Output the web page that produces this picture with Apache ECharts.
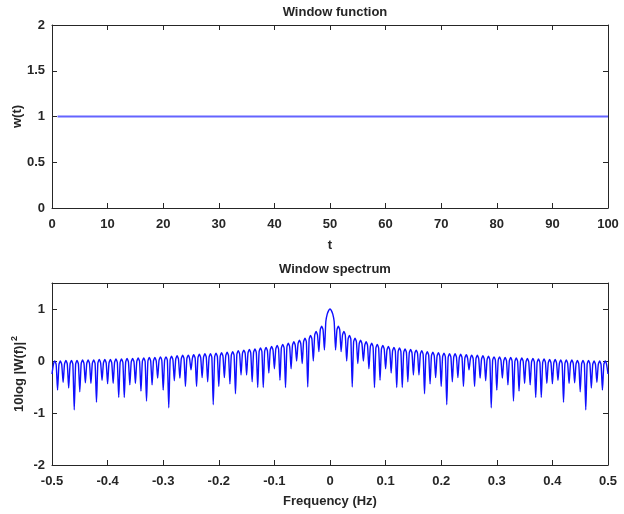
<!DOCTYPE html>
<html>
<head>
<meta charset="utf-8">
<script src="https://cdn.jsdelivr.net/npm/echarts@6/dist/echarts.min.js"></script>
<style>
html,body{margin:0;padding:0;background:#fff;}
#chart{width:624px;height:514px;}
</style>
</head>
<body>
<div id="chart"></div>
<script>
// ---- Data ----
// Window function (rectangular window)
const windowT = [1, 100];
const windowW = [1, 1];
const tTicks = [0, 10, 20, 30, 40, 50, 60, 70, 80, 90, 100];
const wTicks = [0, 0.5, 1, 1.5, 2];

// Window spectrum, read every 0.0025 Hz from -0.5 to 0.5
// (each row: null, lobe shoulder, lobe peak, lobe shoulder)
const freqStart = -0.5;
const freqStep = 0.0025;
const spectrum = [
  -0.25, -0.07, 0.00, -0.07,
  -0.56, -0.07, 0.00, -0.07,
  -0.41, -0.06, 0.01, -0.06,
  -0.52, -0.06, 0.01, -0.06,
  -0.94, -0.06, 0.01, -0.06,
  -0.59, -0.05, 0.02, -0.05,
  -0.42, -0.05, 0.02, -0.05,
  -0.43, -0.05, 0.02, -0.05,
  -0.79, -0.04, 0.03, -0.04,
  -0.37, -0.04, 0.03, -0.04,
  -0.44, -0.04, 0.03, -0.04,
  -0.43, -0.03, 0.04, -0.03,
  -0.70, -0.03, 0.04, -0.03,
  -0.70, -0.02, 0.05, -0.02,
  -0.46, -0.02, 0.05, -0.02,
  -0.43, -0.01, 0.06, -0.01,
  -0.58, -0.01, 0.06, -0.01,
  -0.77, 0.00, 0.07, 0.00,
  -0.46, 0.00, 0.07, 0.00,
  -0.33, 0.01, 0.08, 0.01,
  -0.56, 0.01, 0.08, 0.01,
  -0.90, 0.02, 0.09, 0.02,
  -0.38, 0.03, 0.10, 0.03,
  -0.33, 0.04, 0.11, 0.04,
  -0.49, 0.04, 0.11, 0.04,
  -0.17, 0.05, 0.12, 0.05,
  -0.49, 0.06, 0.13, 0.06,
  -0.32, 0.07, 0.14, 0.07,
  -0.40, 0.07, 0.14, 0.07,
  -0.84, 0.08, 0.15, 0.08,
  -0.49, 0.09, 0.16, 0.09,
  -0.32, 0.10, 0.17, 0.10,
  -0.44, 0.11, 0.18, 0.11,
  -0.63, 0.13, 0.20, 0.13,
  -0.27, 0.14, 0.21, 0.14,
  -0.27, 0.15, 0.22, 0.15,
  -0.40, 0.16, 0.23, 0.16,
  -0.51, 0.18, 0.25, 0.18,
  -0.51, 0.19, 0.26, 0.19,
  -0.23, 0.21, 0.28, 0.21,
  -0.15, 0.23, 0.30, 0.23,
  -0.37, 0.25, 0.32, 0.25,
  -0.51, 0.27, 0.34, 0.27,
  -0.15, 0.30, 0.37, 0.30,
  0.00, 0.33, 0.40, 0.33,
  -0.05, 0.37, 0.44, 0.37,
  -0.50, 0.42, 0.49, 0.42,
  0.00, 0.50, 0.57, 0.50,
  0.18, 0.60, 0.67, 0.60,
  0.21, 0.76, 0.90, 0.97,
  1.00,
  0.97, 0.90, 0.76, 0.21,
  0.60, 0.67, 0.60, 0.18,
  0.50, 0.57, 0.50, 0.00,
  0.42, 0.49, 0.42, -0.50,
  0.37, 0.44, 0.37, -0.05,
  0.33, 0.40, 0.33, 0.00,
  0.30, 0.37, 0.30, -0.15,
  0.27, 0.34, 0.27, -0.51,
  0.25, 0.32, 0.25, -0.37,
  0.23, 0.30, 0.23, -0.15,
  0.21, 0.28, 0.21, -0.23,
  0.19, 0.26, 0.19, -0.51,
  0.18, 0.25, 0.18, -0.51,
  0.16, 0.23, 0.16, -0.40,
  0.15, 0.22, 0.15, -0.27,
  0.14, 0.21, 0.14, -0.27,
  0.13, 0.20, 0.13, -0.63,
  0.11, 0.18, 0.11, -0.44,
  0.10, 0.17, 0.10, -0.32,
  0.09, 0.16, 0.09, -0.49,
  0.08, 0.15, 0.08, -0.84,
  0.07, 0.14, 0.07, -0.40,
  0.07, 0.14, 0.07, -0.32,
  0.06, 0.13, 0.06, -0.49,
  0.05, 0.12, 0.05, -0.17,
  0.04, 0.11, 0.04, -0.49,
  0.04, 0.11, 0.04, -0.33,
  0.03, 0.10, 0.03, -0.38,
  0.02, 0.09, 0.02, -0.90,
  0.01, 0.08, 0.01, -0.56,
  0.01, 0.08, 0.01, -0.33,
  0.00, 0.07, 0.00, -0.46,
  0.00, 0.07, 0.00, -0.77,
  -0.01, 0.06, -0.01, -0.58,
  -0.01, 0.06, -0.01, -0.43,
  -0.02, 0.05, -0.02, -0.46,
  -0.02, 0.05, -0.02, -0.70,
  -0.03, 0.04, -0.03, -0.70,
  -0.03, 0.04, -0.03, -0.43,
  -0.04, 0.03, -0.04, -0.44,
  -0.04, 0.03, -0.04, -0.37,
  -0.05, 0.02, -0.05, -0.79,
  -0.05, 0.02, -0.05, -0.43,
  -0.05, 0.02, -0.05, -0.42,
  -0.06, 0.01, -0.06, -0.59,
  -0.06, 0.01, -0.06, -0.94,
  -0.06, 0.01, -0.06, -0.52,
  -0.07, 0.00, -0.07, -0.41,
  -0.07, 0.00, -0.07, -0.56,
  -0.07, 0.00, -0.07, -0.25
];
const fTicks = [-0.5, -0.4, -0.3, -0.2, -0.1, 0, 0.1, 0.2, 0.3, 0.4, 0.5];
const sTicks = [-2, -1, 0, 1];

// ---- Build ----
const FONT = 'Liberation Sans, Arial, Helvetica, sans-serif';
const TXT = '#262626';
const AX = '#262626';

const windowData = windowT.map((t, i) => [t, windowW[i]]);
const spectrumData = spectrum.map((v, i) => [+(freqStart + i * freqStep).toFixed(5), v]);

function labelStyle(extra) {
  return Object.assign({color: TXT, fontFamily: FONT, fontWeight: 'bold', fontSize: 13}, extra || {});
}
function mainAxis(o) {
  return Object.assign({
    type: 'value',
    axisLine: {show: true, onZero: false, lineStyle: {color: AX, width: 1}},
    axisTick: {show: true, inside: true, length: 5, lineStyle: {color: AX}},
    splitLine: {show: false},
    nameLocation: 'middle',
    nameMoveOverlap: false,
    nameTextStyle: labelStyle()
  }, o);
}
function mirrorAxis(o) {
  return Object.assign({
    type: 'value',
    axisLine: {show: true, onZero: false, lineStyle: {color: AX, width: 1}},
    axisTick: {show: true, inside: true, length: 5, lineStyle: {color: AX}},
    axisLabel: {show: false},
    splitLine: {show: false}
  }, o);
}

const chart = echarts.init(document.getElementById('chart'), null, {renderer: 'canvas'});
chart.setOption({
  backgroundColor: '#fff',
  animation: false,
  title: [
    {text: 'Window function', left: 330, top: 1, textAlign: 'center',
     textStyle: labelStyle({fontSize: 13})},
    {text: 'Window spectrum', left: 330, top: 258, textAlign: 'center',
     textStyle: labelStyle({fontSize: 13})}
  ],
  grid: [
    {left: 52, right: 16, top: 25, height: 183, containLabel: false, outerBoundsMode: 'none'},
    {left: 52, right: 16, top: 283, height: 182, containLabel: false, outerBoundsMode: 'none'}
  ],
  xAxis: [
    mainAxis({gridIndex: 0, position: 'bottom', min: tTicks[0], max: tTicks[tTicks.length - 1], interval: 10,
      name: 't', nameGap: 31,
      axisLabel: labelStyle({margin: 10})}),
    mirrorAxis({gridIndex: 0, position: 'top', min: tTicks[0], max: tTicks[tTicks.length - 1], interval: 10}),
    mainAxis({gridIndex: 1, position: 'bottom', min: fTicks[0], max: fTicks[fTicks.length - 1], interval: 0.1,
      name: 'Frequency (Hz)', nameGap: 30,
      axisLabel: labelStyle({margin: 10, formatter: v => (Math.round(v * 10) / 10).toString()})}),
    mirrorAxis({gridIndex: 1, position: 'top', min: fTicks[0], max: fTicks[fTicks.length - 1], interval: 0.1})
  ],
  yAxis: [
    mainAxis({gridIndex: 0, position: 'left', min: wTicks[0], max: wTicks[wTicks.length - 1], interval: 0.5,
      name: 'w(t)', nameGap: 28, nameRotate: 90,
      axisLabel: labelStyle({margin: 7})}),
    mirrorAxis({gridIndex: 0, position: 'right', min: wTicks[0], max: wTicks[wTicks.length - 1], interval: 0.5}),
    mainAxis({gridIndex: 1, position: 'left', min: -2, max: 1.5, interval: 1,
      name: '{a|10log |W(f)|}{b|2}', nameGap: 26, nameRotate: 90,
      nameTextStyle: labelStyle({rich: {
        a: labelStyle({fontSize: 13, lineHeight: 16, verticalAlign: 'bottom'}),
        b: labelStyle({fontSize: 9, lineHeight: 16, verticalAlign: 'top', padding: [0, 0, 6, 1]})
      }}),
      axisLabel: labelStyle({margin: 7, formatter: v => (sTicks.indexOf(v) >= 0 ? String(v) : '')})}),
    mirrorAxis({gridIndex: 1, position: 'right', min: -2, max: 1.5, interval: 1})
  ],
  series: [
    {type: 'line', xAxisIndex: 0, yAxisIndex: 0, data: windowData, showSymbol: false,
     lineStyle: {color: '#6464ff', width: 2}},
    {type: 'line', xAxisIndex: 2, yAxisIndex: 2, data: spectrumData, showSymbol: false,
     smooth: 0.2, lineStyle: {color: '#0f0fff', width: 1.4}}
  ]
});
</script>
</body>
</html>
